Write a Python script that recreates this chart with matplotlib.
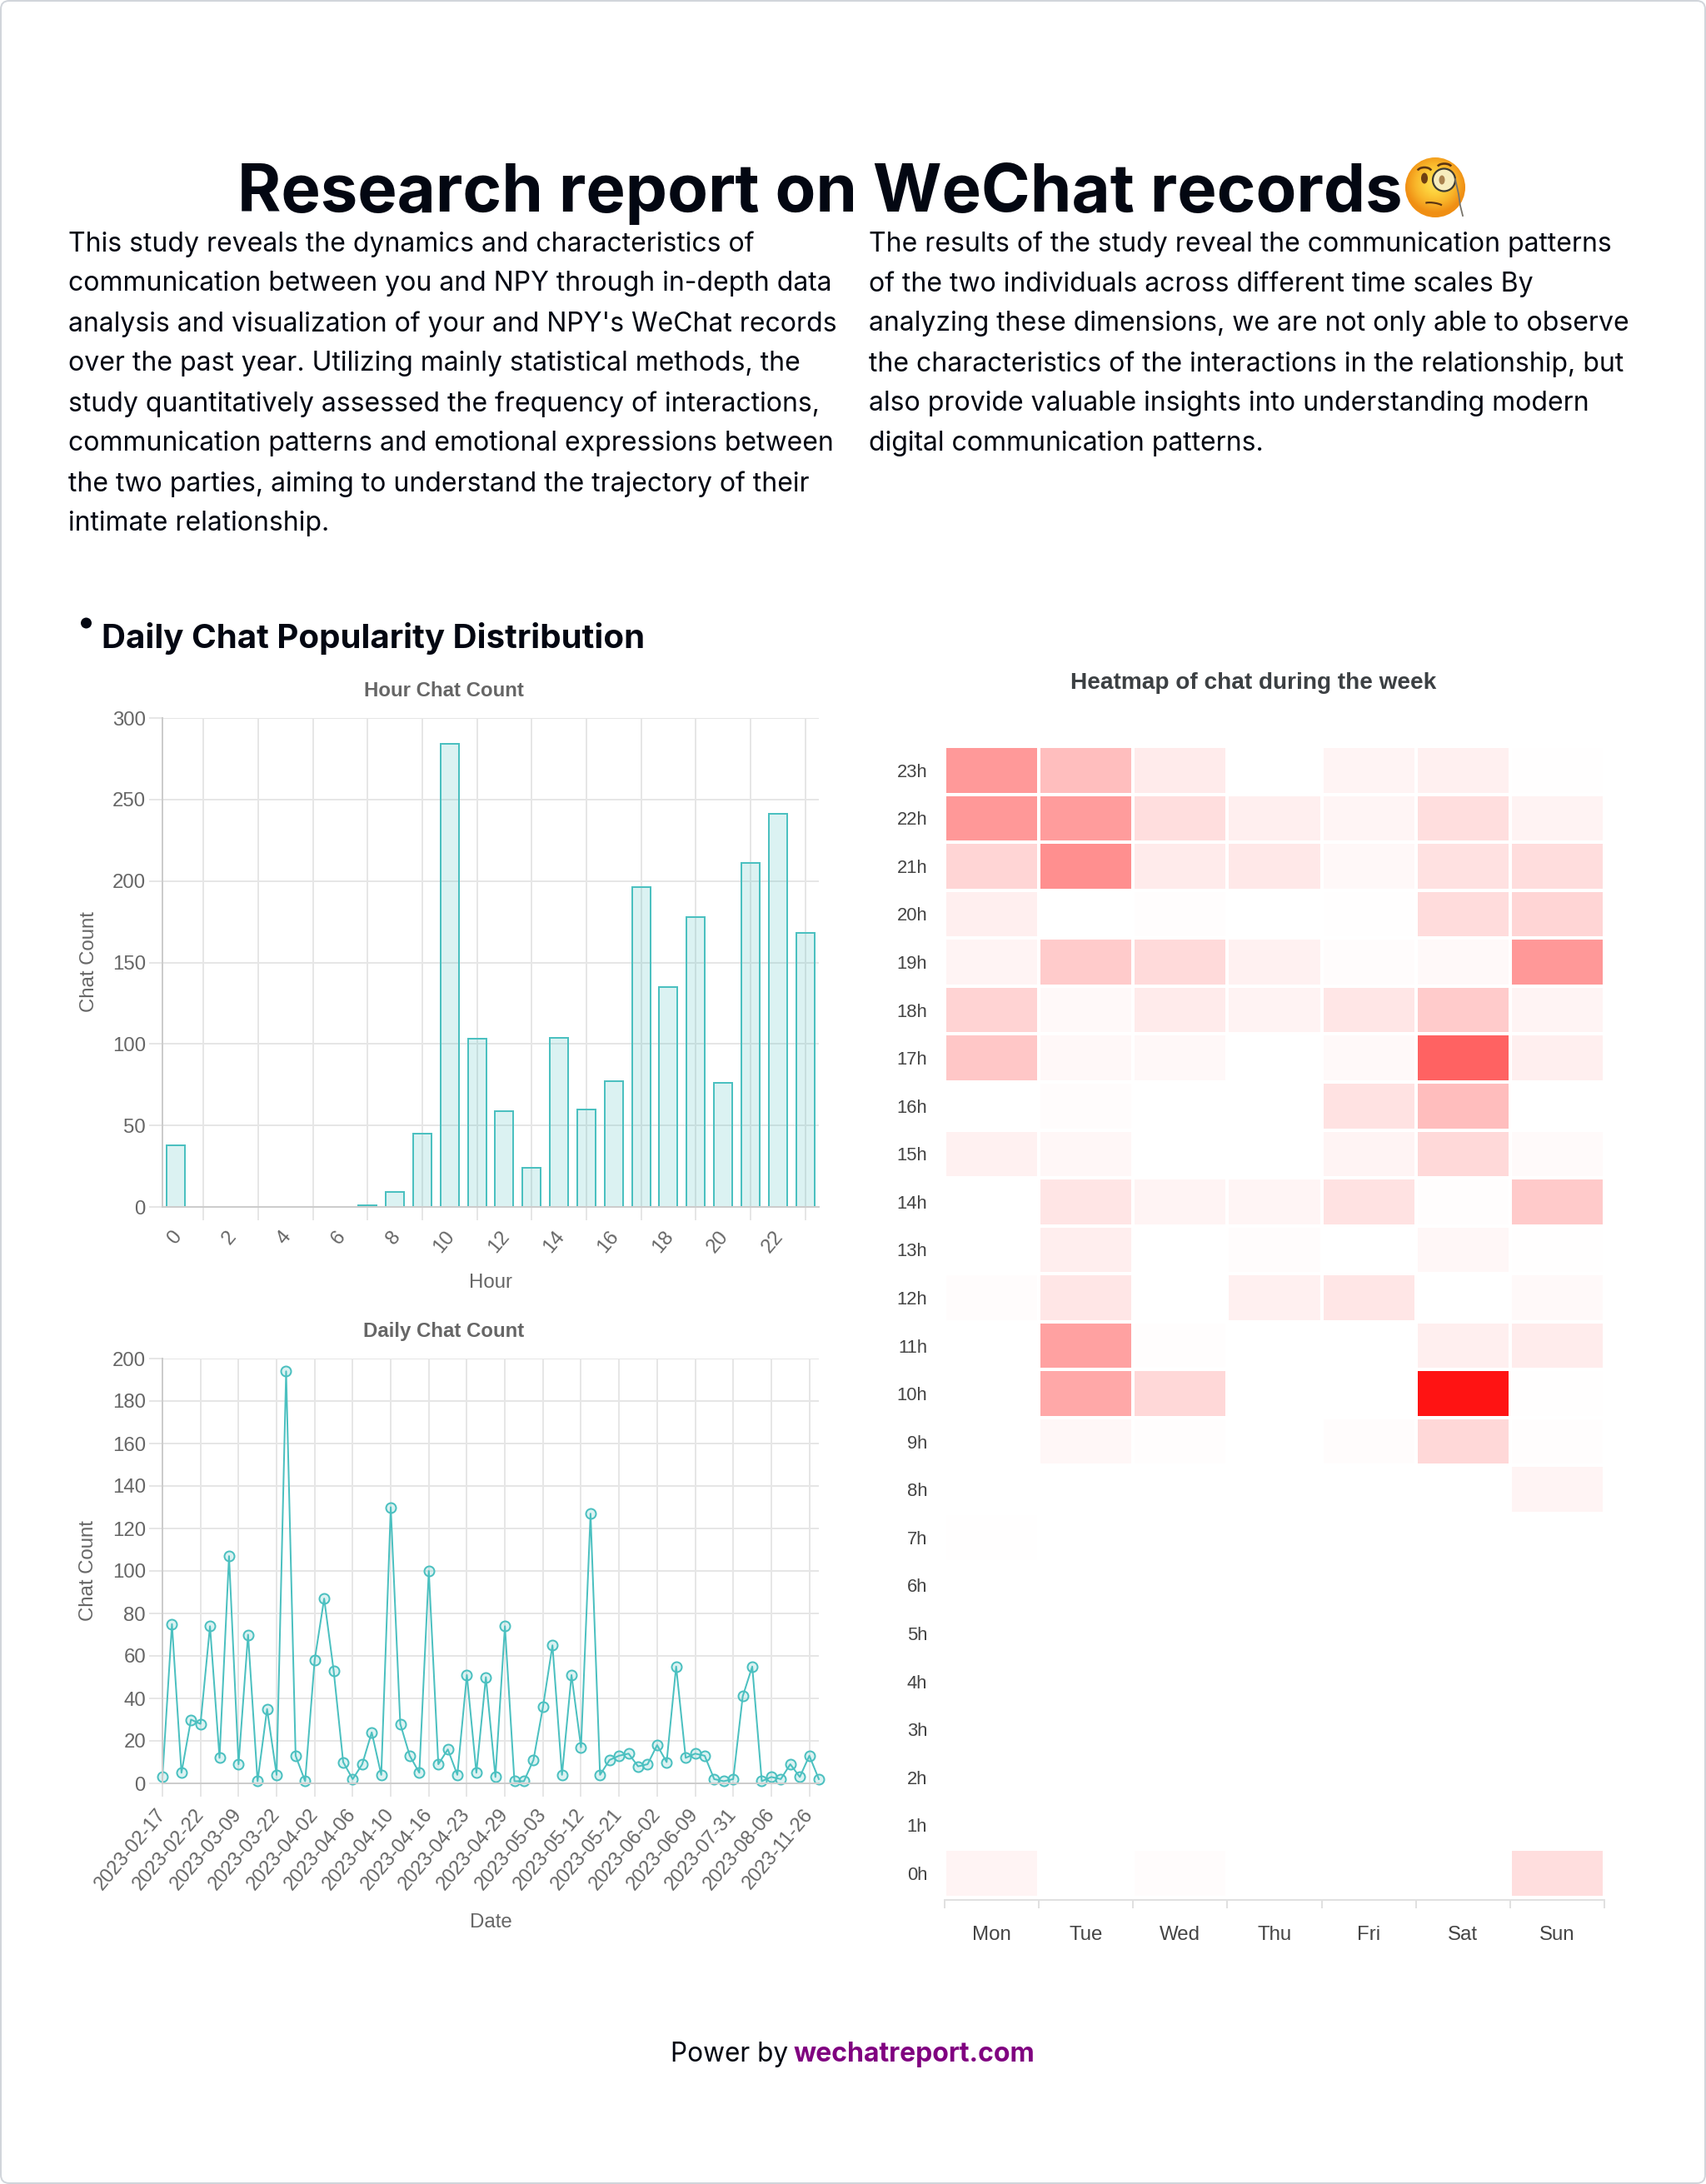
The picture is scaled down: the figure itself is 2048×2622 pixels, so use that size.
import numpy as np
import matplotlib
matplotlib.use("Agg")
import matplotlib.pyplot as plt
from matplotlib.colors import LinearSegmentedColormap, Normalize, to_rgba
from matplotlib.patches import Circle, FancyBboxPatch, Ellipse, Arc
from matplotlib.transforms import ScaledTranslation

hours = list(range(24))
hour_counts = [38, 0, 0, 0, 0, 0, 0, 1, 9, 45, 284, 103, 59, 24, 104, 60, 77, 196, 135, 178, 76, 211, 241, 168]

dates = ["2023-02-17", "2023-02-22", "2023-03-09", "2023-03-22", "2023-04-02", "2023-04-06",
         "2023-04-10", "2023-04-16", "2023-04-23", "2023-04-29", "2023-05-03", "2023-05-12",
         "2023-05-21", "2023-06-02", "2023-06-09", "2023-07-31", "2023-08-06", "2023-11-26"]
daily_counts = [3, 75, 5, 30, 28, 74, 12, 107, 9, 70, 1, 35, 4, 194, 13, 1, 58, 87, 53, 10,
                2, 9, 24, 4, 130, 28, 13, 5, 100, 9, 16, 4, 51, 5, 50, 3, 74, 1, 1, 11,
                36, 65, 4, 51, 17, 127, 4, 11, 13, 14, 8, 9, 18, 10, 55, 12, 14, 13, 2, 1,
                2, 41, 55, 1, 3, 2, 9, 3, 13, 2]

days = ["Mon", "Tue", "Wed", "Thu", "Fri", "Sat", "Sun"]
heat_hours = [f"{h}h" for h in range(24)]
heat = [
    [9, 0, 3, 0, 0, 0, 26],      # 0h
    [0, 0, 0, 0, 0, 0, 0],
    [0, 0, 0, 0, 0, 0, 0],
    [0, 0, 0, 0, 0, 0, 0],
    [0, 0, 0, 0, 0, 0, 0],
    [0, 0, 0, 0, 0, 0, 0],
    [0, 0, 0, 0, 0, 0, 0],
    [1, 0, 0, 0, 0, 0, 0],
    [0, 0, 0, 0, 0, 0, 9],       # 8h
    [0, 7, 2, 0, 3, 31, 2],
    [0, 68, 31, 0, 0, 185, 1],
    [0, 74, 2, 0, 0, 13, 15],
    [3, 20, 0, 12, 20, 0, 5],
    [0, 14, 0, 3, 0, 7, 1],
    [0, 21, 9, 8, 23, 2, 42],
    [11, 7, 0, 0, 9, 30, 4],
    [0, 3, 0, 0, 23, 52, 0],
    [44, 6, 6, 0, 5, 123, 13],
    [35, 5, 16, 10, 20, 41, 9],
    [9, 41, 29, 11, 3, 5, 81],
    [13, 0, 2, 0, 1, 28, 33],
    [33, 88, 16, 18, 6, 24, 27],
    [81, 78, 26, 13, 8, 26, 10],
    [80, 51, 16, 0, 9, 12, 1],   # 23h
]

W, H = 2048, 2622
DPI = 100
def pt(px):
    return px * 72 / DPI

TEAL = "#4bc0c0"
GRID = "#e6e6e6"
AXL = "#cccccc"
GREY = "#666666"
INK = "#030712"
BODY = ["Inter", "DejaVu Sans"]
CH = ["Liberation Sans", "DejaVu Sans"]

fig = plt.figure(figsize=(W / DPI, H / DPI), dpi=DPI, facecolor="white")

def axes_px(x0, y0, x1, y1):
    return fig.add_axes([x0 / W, 1 - y1 / H, (x1 - x0) / W, (y1 - y0) / H])

def shift_px(dx, dy):
    return ScaledTranslation(dx / DPI, -dy / DPI, fig.dpi_scale_trans)

bg = fig.add_axes([0, 0, 1, 1], zorder=0)
bg.set_xlim(0, W); bg.set_ylim(H, 0); bg.axis("off")

bg.add_patch(FancyBboxPatch((1, 1), W - 2, H - 2, boxstyle="round,pad=0,rounding_size=10",
                            fc="white", ec="#d1d5db", lw=pt(2)))

bg.text(285, 232, "Research report on WeChat records", family=BODY, weight="bold",
        fontsize=pt(79.7), color=INK, ha="left", va="center")

left_lines = [
    "This study reveals the dynamics and characteristics of",
    "communication between you and NPY through in-depth data",
    "analysis and visualization of your and NPY's WeChat records",
    "over the past year. Utilizing mainly statistical methods, the",
    "study quantitatively assessed the frequency of interactions,",
    "communication patterns and emotional expressions between",
    "the two parties, aiming to understand the trajectory of their",
    "intimate relationship.",
]
right_lines = [
    "The results of the study reveal the communication patterns",
    "of the two individuals across different time scales By",
    "analyzing these dimensions, we are not only able to observe",
    "the characteristics of the interactions in the relationship, but",
    "also provide valuable insights into understanding modern",
    "digital communication patterns.",
]
for i, s in enumerate(left_lines):
    bg.text(82, 293 + i * 48, s, family=BODY, fontsize=pt(32), color=INK, ha="left", va="center")
for i, s in enumerate(right_lines):
    bg.text(1043, 293 + i * 48, s, family=BODY, fontsize=pt(32), color=INK, ha="left", va="center")

bg.add_patch(Circle((103.5, 748), 6.5, fc=INK, ec="none"))
bg.text(122, 767, "Daily Chat Popularity Distribution", family=BODY, weight="bold",
        fontsize=pt(40.2), color=INK, ha="left", va="center")

bg.text(805, 2467, "Power by", family=BODY, fontsize=pt(31.6), color=INK, ha="left", va="center")
bg.text(953, 2467, "wechatreport.com", family=BODY, weight="bold", fontsize=pt(32),
        color="#800080", ha="left", va="center")

# emoji drawn with shapes
cx, cy, r = 1723, 225, 36
cm_face = LinearSegmentedColormap.from_list("face", ["#ffdf5e", "#fdd13c", "#f9b52a", "#f08f14"])
gy, gx = np.mgrid[-1:1:96j, -1:1:96j]
grad = np.clip(np.hypot(gx, gy + 0.15), 0, 1)
im = bg.imshow(grad, extent=(cx - r, cx + r, cy + r, cy - r), cmap=cm_face, aspect="auto", zorder=2)
im.set_clip_path(Circle((cx, cy), r, transform=bg.transData))
bg.set_xlim(0, W); bg.set_ylim(H, 0)
BROWN = "#6f3f12"
bg.add_patch(Circle((cx + 10.5, cy - 9), 13.5, fc="#f7edbe", ec="#3c3a32", lw=pt(2.2), zorder=3))
bg.add_patch(Ellipse((cx - 13, cy - 11), 8, 13, fc=BROWN, ec="none", zorder=4))
bg.add_patch(Ellipse((cx + 8, cy - 9), 7, 11, fc="#a9824f", ec="none", zorder=4))
bg.add_patch(Arc((cx - 13, cy - 19), 17, 10, theta1=190, theta2=350, ec="#5a3412", lw=pt(2.6), zorder=4))
bg.add_patch(Arc((cx + 11, cy - 24), 17, 9, theta1=190, theta2=350, ec="#5a3412", lw=pt(2.6), zorder=4))
bg.add_patch(Arc((cx - 2, cy + 21), 21, 5, theta1=185, theta2=355, angle=8, ec="#5a3412", lw=pt(2.2), zorder=4))
bg.plot([cx + 24, cx + 28, cx + 30, cx + 33], [cy - 10, cy + 8, cy + 22, cy + 34],
        color="#77736a", lw=pt(1.8), zorder=4)

def style_chart(ax, ymax, ystep):
    ax.set_ylim(0, ymax)
    ax.set_yticks(np.arange(0, ymax + 1, ystep))
    ax.grid(True, which="major", color=GRID, lw=pt(2))
    ax.set_axisbelow(True)
    for s in ("top", "right"):
        ax.spines[s].set_visible(False)
    for s in ("left", "bottom"):
        ax.spines[s].set_color(AXL)
        ax.spines[s].set_linewidth(pt(2))
    ax.tick_params(axis="both", which="major", length=pt(16), width=pt(2), color=GRID,
                   labelcolor=GREY, labelsize=pt(24))
    ax.tick_params(axis="y", pad=pt(4))
    ax.patch.set_alpha(0)
    for lab in ax.get_yticklabels():
        lab.set_family(CH)

# Hour chart
ax1 = axes_px(195, 862, 983, 1449)
bars = ax1.bar(hours, hour_counts, width=0.67, color=to_rgba(TEAL, 0.2), edgecolor=TEAL, linewidth=pt(2))
for b, v in zip(bars, hour_counts):
    if v == 0:
        b.set_linewidth(0)
ax1.set_xlim(-0.5, 23.5)
style_chart(ax1, 300, 50)
ax1.set_xticks(hours[1::2])
ax1.set_xticklabels([])
ax1.set_xticks(hours[0::2], [str(h) for h in hours[0::2]], minor=True)
ax1.tick_params(axis="x", which="minor", length=0, labelcolor=GREY, labelsize=pt(24), pad=pt(25))
for lab in ax1.get_xticklabels(minor=True):
    lab.set(rotation=50, ha="right", va="top", rotation_mode="anchor", family=CH)
    lab.set_transform(lab.get_transform() + shift_px(-6, 0))
bg.text(533, 829, "Hour Chat Count", family=CH, weight="bold", fontsize=pt(24), color=GREY, ha="center", va="center")
bg.text(107, 1155, "Chat Count", family=CH, fontsize=pt(24), color=GREY, ha="center", va="center", rotation=90)
bg.text(589, 1540, "Hour", family=CH, fontsize=pt(24), color=GREY, ha="center", va="center")

# Daily chart
ax2 = axes_px(195, 1631, 983, 2141)
xs = np.arange(len(daily_counts))
ax2.plot(xs, daily_counts, color=TEAL, lw=pt(2), marker="o", ms=pt(12),
         mfc=to_rgba(TEAL, 0.2), mec=TEAL, mew=pt(2), clip_on=False)
ax2.set_xlim(0, len(daily_counts) - 1)
style_chart(ax2, 200, 20)
ax2.set_xticks(xs[::4][:len(dates)], dates)
ax2.tick_params(axis="x", pad=pt(10))
for lab in ax2.get_xticklabels():
    lab.set(rotation=50, ha="right", va="top", rotation_mode="anchor", family=CH, fontsize=pt(23.5))
    lab.set_transform(lab.get_transform() + shift_px(-9, 0))
bg.text(533, 1598, "Daily Chat Count", family=CH, weight="bold", fontsize=pt(24), color=GREY, ha="center", va="center")
bg.text(106, 1886, "Chat Count", family=CH, fontsize=pt(24), color=GREY, ha="center", va="center", rotation=90)
bg.text(589, 2308, "Date", family=CH, fontsize=pt(24), color=GREY, ha="center", va="center")

# Heatmap
ax3 = axes_px(1134, 896, 1926, 2281)
cm_heat = LinearSegmentedColormap.from_list("heat", ["#ffffff", "#ff0000"])
ax3.pcolormesh(np.arange(8), np.arange(25), np.array(heat), cmap=cm_heat, norm=Normalize(0, 200),
               edgecolors="white", linewidth=pt(4))
ax3.set_xlim(0, 7); ax3.set_ylim(-0.06, 24)
ax3.set_xticks(np.arange(8)); ax3.set_xticklabels([])
ax3.set_xticks(np.arange(7) + 0.5, days, minor=True)
ax3.set_yticks(np.arange(24) + 0.5, heat_hours)
ax3.tick_params(axis="y", length=0, labelsize=pt(22), labelcolor="#444444", pad=pt(21))
ax3.tick_params(axis="x", which="major", length=pt(10), width=pt(2), color="#e0e0e0")
ax3.tick_params(axis="x", which="minor", length=0, labelsize=pt(24), labelcolor="#444444", pad=pt(31))
for lab in ax3.get_yticklabels() + ax3.get_xticklabels(minor=True):
    lab.set_family(CH)
for s in ("top", "left", "right"):
    ax3.spines[s].set_visible(False)
ax3.spines["bottom"].set_color("#e0e0e0"); ax3.spines["bottom"].set_linewidth(pt(2))
bg.text(1505, 820, "Heatmap of chat during the week", family=CH, weight="bold", fontsize=pt(28),
        color="#3c4043", ha="center", va="center")

fig.savefig("out.png", dpi=DPI)
